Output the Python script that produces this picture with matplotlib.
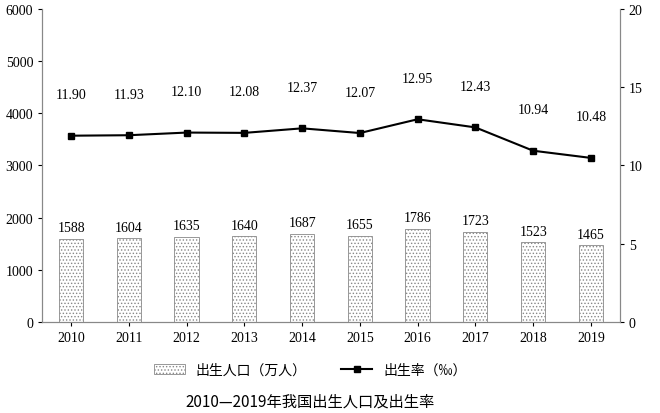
import matplotlib
matplotlib.use("Agg")
import matplotlib.pyplot as plt
from matplotlib.lines import Line2D
from matplotlib.patches import Patch
from matplotlib import font_manager

years = ["2010","2011","2012","2013","2014","2015","2016","2017","2018","2019"]
births = [1588,1604,1635,1640,1687,1655,1786,1723,1523,1465]
rate = [11.90,11.93,12.10,12.08,12.37,12.07,12.95,12.43,10.94,10.48]
left_ticks = [0,1000,2000,3000,4000,5000,6000]
right_ticks = [0,5,10,15,20]

plt.rcParams['hatch.color'] = '#555555'
plt.rcParams['hatch.linewidth'] = 0.6
serif = "Liberation Serif"
names = {f.name for f in font_manager.fontManager.ttflist}
cjk = next((n for n in ["Noto Sans CJK SC","Noto Sans CJK JP","Noto Sans CJK TC","Noto Sans CJK KR"] if n in names), "DejaVu Sans")

fig = plt.figure(figsize=(6.6,4.14), dpi=100)
ax = fig.add_axes([0.064,0.22,0.875,0.756])
x = range(len(years))
ax.bar(x, births, width=0.42, color='white', edgecolor='#888888', hatch='.....', linewidth=0.6)
for i,v in enumerate(births):
    ax.text(i, v+90, str(v), ha='center', va='bottom', fontsize=10, family=serif)
ax.set_ylim(0,6000)
ax.set_xlim(-0.5, len(years)-0.5)
ax.set_yticks(left_ticks)
ax.set_xticks(list(x))
ax.set_xticklabels(years)
ax2 = ax.twinx()
ax2.plot(list(x), rate, color='black', marker='s', markersize=5, linewidth=1.5)
for i,v in enumerate(rate):
    ax2.text(i, v+2.2, f"{v:.2f}", ha='center', va='bottom', fontsize=10, family=serif)
ax2.set_ylim(0,20)
ax2.set_yticks(right_ticks)
for a in (ax, ax2):
    a.tick_params(labelsize=10, direction='out', length=3)
    for lab in a.get_xticklabels()+a.get_yticklabels():
        lab.set_family(serif)
    a.spines['top'].set_visible(False)
    for s in a.spines.values():
        s.set_color('#888888')

handles = [Patch(facecolor='white', edgecolor='#888888', hatch='.....', linewidth=0.6),
           Line2D([0],[0], color='black', marker='s', markersize=5, linewidth=1.5)]
fig.legend(handles, ["出生人口（万人）", "出生率（‰）"], loc='center', bbox_to_anchor=(0.47,0.105),
           ncol=2, frameon=False, prop={'family':cjk,'size':10}, handlelength=2.2, columnspacing=2.5)
fig.text(0.47, 0.03, "2010—2019年我国出生人口及出生率", ha='center', va='center', family=cjk, fontsize=11)
fig.savefig("out.png", dpi=100)
